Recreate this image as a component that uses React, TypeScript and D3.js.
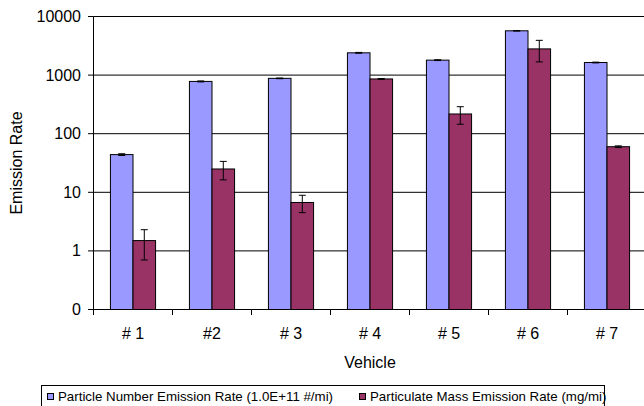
import React, { useEffect, useRef } from 'react';
import * as d3 from 'd3';

// chart values
const vehicles = ['# 1', '#2', '# 3', '# 4', '# 5', '# 6', '# 7'];
const particleNumber = [44, 780, 880, 2400, 1800, 5700, 1640];
const particleNumberErr = [1.5, 15, 12, 40, 30, 60, 25];
const particleMass = [1.5, 25, 6.7, 860, 217, 2800, 60];
const particleMassErr = [0.8, 8.7, 2.2, 15, 72, 1120, 2];
const yTicks = [0.1, 1, 10, 100, 1000, 10000];
const yTickLabels = ['0', '1', '10', '100', '1000', '10000'];
const seriesNames = [
    'Particle Number Emission Rate (1.0E+11 #/mi)',
    'Particulate Mass Emission Rate (mg/mi)',
];
const seriesColors = ['#9999FF', '#993366'];

const W = 644;
const H = 406;
const FONT = '"Liberation Sans", Arial, sans-serif';

export default function App() {
    const svgRef = useRef<SVGSVGElement>(null);

    useEffect(() => {
        const svg = d3.select(svgRef.current);
        svg.selectAll('*').remove();

        const left = 93.5;
        const right = 646.5;
        const top = 16.5;
        const bottom = 309.5;

        const x = d3.scaleBand().domain(vehicles).range([left, right]).padding(0);
        const xs = d3
            .scaleBand()
            .domain(['0', '1'])
            .range([0, x.bandwidth()])
            .paddingInner(0)
            .paddingOuter(0.75);
        const y = d3.scaleLog().domain([0.1, 10000]).range([bottom, top]);

        svg.append('rect').attr('width', W).attr('height', H).attr('fill', '#fff');

        // gridlines
        svg.append('g')
            .selectAll('line')
            .data(yTicks)
            .enter()
            .append('line')
            .attr('x1', left)
            .attr('x2', right)
            .attr('y1', (d) => y(d))
            .attr('y2', (d) => y(d))
            .attr('stroke', '#000')
            .attr('stroke-width', 1);

        // bars
        const series = [
            { vals: particleNumber, errs: particleNumberErr },
            { vals: particleMass, errs: particleMassErr },
        ];
        series.forEach((s, si) => {
            const g = svg.append('g');
            g.selectAll('rect')
                .data(s.vals)
                .enter()
                .append('rect')
                .attr('x', (d, i) => (x(vehicles[i]) as number) + (xs(String(si)) as number))
                .attr('y', (d) => y(d))
                .attr('width', xs.bandwidth())
                .attr('height', (d) => bottom - y(d))
                .attr('fill', seriesColors[si])
                .attr('stroke', '#000')
                .attr('stroke-width', 1);

            // error bars
            s.vals.forEach((v, i) => {
                const cx = (x(vehicles[i]) as number) + (xs(String(si)) as number) + xs.bandwidth() / 2;
                const y1 = y(v + s.errs[i]);
                const y2 = y(Math.max(v - s.errs[i], 0.1));
                const eg = g.append('g').attr('stroke', '#000').attr('stroke-width', 1);
                eg.append('line').attr('x1', cx).attr('x2', cx).attr('y1', y1).attr('y2', y2);
                [y1, y2].forEach((yy) => {
                    eg.append('line')
                        .attr('x1', cx - 3.5)
                        .attr('x2', cx + 3.5)
                        .attr('y1', yy)
                        .attr('y2', yy);
                });
            });
        });

        // y axis
        const yAxis = svg.append('g');
        yAxis.append('line')
            .attr('x1', left)
            .attr('x2', left)
            .attr('y1', top)
            .attr('y2', bottom)
            .attr('stroke', '#000');
        yAxis.selectAll('line.tick')
            .data(yTicks)
            .enter()
            .append('line')
            .attr('class', 'tick')
            .attr('x1', left - 5.5)
            .attr('x2', left)
            .attr('y1', (d) => y(d))
            .attr('y2', (d) => y(d))
            .attr('stroke', '#000');
        yAxis.selectAll('text')
            .data(yTicks)
            .enter()
            .append('text')
            .attr('x', 81)
            .attr('y', (d) => y(d))
            .attr('text-anchor', 'end')
            .attr('dominant-baseline', 'central')
            .attr('font-family', FONT)
            .attr('font-size', 16)
            .text((d, i) => yTickLabels[i]);

        // x axis
        const xAxis = svg.append('g');
        xAxis.selectAll('line')
            .data(vehicles)
            .enter()
            .append('line')
            .attr('x1', (d) => x(d) as number)
            .attr('x2', (d) => x(d) as number)
            .attr('y1', bottom)
            .attr('y2', bottom + 5.5)
            .attr('stroke', '#000');
        xAxis.selectAll('text')
            .data(vehicles)
            .enter()
            .append('text')
            .attr('x', (d) => (x(d) as number) + x.bandwidth() / 2)
            .attr('y', 333)
            .attr('text-anchor', 'middle')
            .attr('dominant-baseline', 'central')
            .attr('font-family', FONT)
            .attr('font-size', 16)
            .text((d) => d);

        // axis titles
        svg.append('text')
            .attr('x', (left + right) / 2)
            .attr('y', 362)
            .attr('text-anchor', 'middle')
            .attr('dominant-baseline', 'central')
            .attr('font-family', FONT)
            .attr('font-size', 16)
            .text('Vehicle');
        svg.append('text')
            .attr('transform', `translate(16, ${(top + bottom) / 2}) rotate(-90)`)
            .attr('text-anchor', 'middle')
            .attr('dominant-baseline', 'central')
            .attr('font-family', FONT)
            .attr('font-size', 16)
            .text('Emission Rate');

        // legend
        const legend = svg.append('g');
        legend.append('rect')
            .attr('x', 41.5)
            .attr('y', 385.5)
            .attr('width', 563)
            .attr('height', 25)
            .attr('fill', '#fff')
            .attr('stroke', '#000');
        const itemX = [47.5, 359.5];
        seriesNames.forEach((name, i) => {
            legend.append('rect')
                .attr('x', itemX[i])
                .attr('y', 393.5)
                .attr('width', 6)
                .attr('height', 6)
                .attr('fill', seriesColors[i])
                .attr('stroke', '#000');
            legend.append('text')
                .attr('x', itemX[i] + 10.5)
                .attr('y', 396.5)
                .attr('dominant-baseline', 'central')
                .attr('font-family', FONT)
                .attr('font-size', 13.3)
                .text(name);
        });
    }, []);

    return (
        <svg
            ref={svgRef}
            width={W}
            height={H}
            style={{ position: 'absolute', left: 0, top: 0, display: 'block' }}
        />
    );
}
